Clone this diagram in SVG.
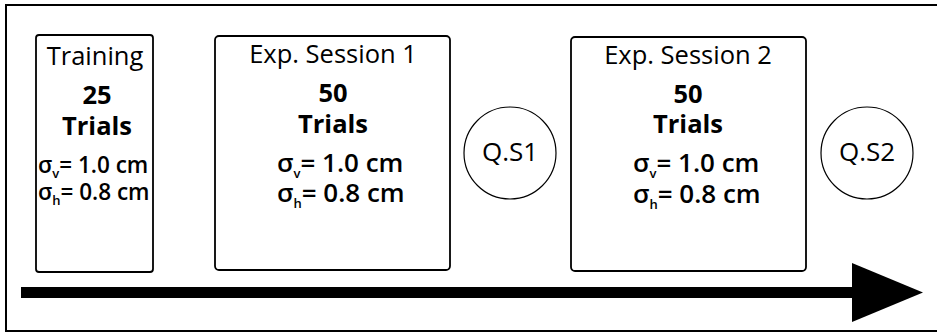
<svg xmlns="http://www.w3.org/2000/svg" width="937" height="333" viewBox="0 0 937 333">
<style>
  .box { fill: #fff; stroke: #000; stroke-width: 1.8; }
  .circ { fill: #fff; stroke: #000; stroke-width: 1.2; }
  text { font-family: "Open Sans", "Noto Sans", sans-serif; fill: #000; }
  .title { font-size: 25.5px; text-anchor: middle; }
  .bold { font-size: 25.5px; font-weight: bold; text-anchor: middle; }
  .sig { font-size: 26px; font-weight: 600; }
  .sigs { font-size: 22.5px; font-weight: 600; }
  .sub { font-size: 13px; }
  .q { font-size: 26px; text-anchor: middle; }
</style>
<rect x="6" y="5" width="940" height="326" fill="#fff" stroke="#000" stroke-width="2"/>
<g id="training">
  <rect class="box" x="36" y="35" width="117" height="237" rx="3" stroke-width="2.2"/>
  <text class="title" x="95" y="65">Training</text>
  <text class="bold" x="97" y="104">25</text>
  <text class="bold" x="97" y="135">Trials</text>
  <text class="sigs" x="38" y="173">σ<tspan class="sub" dy="5">v</tspan><tspan dy="-5">= 1.0 cm</tspan></text>
  <text class="sigs" x="38" y="200">σ<tspan class="sub" dy="5">h</tspan><tspan dy="-5">= 0.8 cm</tspan></text>
</g>
<g id="session1">
  <rect class="box" x="215" y="36" width="235" height="234" rx="4"/>
  <text class="title" x="333" y="63">Exp. Session 1</text>
  <text class="bold" x="333" y="102">50</text>
  <text class="bold" x="333" y="133">Trials</text>
  <text class="sig" x="277" y="172">σ<tspan class="sub" dy="6">v</tspan><tspan dy="-6">= 1.0 cm</tspan></text>
  <text class="sig" x="277" y="202">σ<tspan class="sub" dy="6">h</tspan><tspan dy="-6">= 0.8 cm</tspan></text>
</g>
<g id="qs1">
  <circle class="circ" cx="510" cy="153" r="46"/>
  <text class="q" x="510" y="161">Q.S1</text>
</g>
<g id="session2">
  <rect class="box" x="571" y="37" width="235" height="234" rx="4"/>
  <text class="title" x="688" y="64">Exp. Session 2</text>
  <text class="bold" x="688" y="103">50</text>
  <text class="bold" x="688" y="133">Trials</text>
  <text class="sig" x="633" y="172">σ<tspan class="sub" dy="6">v</tspan><tspan dy="-6">= 1.0 cm</tspan></text>
  <text class="sig" x="633" y="203">σ<tspan class="sub" dy="6">h</tspan><tspan dy="-6">= 0.8 cm</tspan></text>
</g>
<g id="qs2">
  <circle class="circ" cx="867" cy="153" r="46"/>
  <text class="q" x="867" y="161">Q.S2</text>
</g>
<g id="connectors">
  <rect x="21" y="287" width="833" height="11" fill="#000"/>
  <polygon points="852,263 923,292.5 852,322" fill="#000"/>
</g>
</svg>
